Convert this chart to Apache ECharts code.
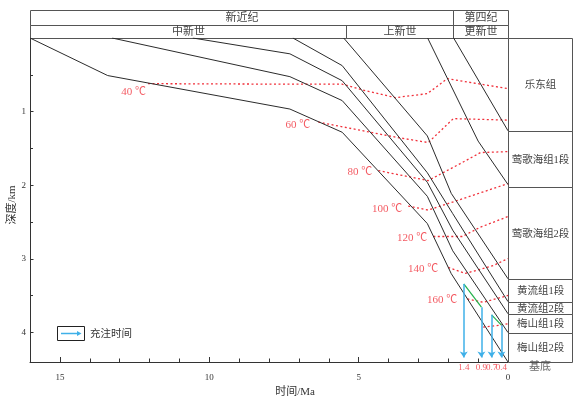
<!DOCTYPE html>
<html>
<head>
<meta charset="utf-8">
<script src="https://cdn.jsdelivr.net/npm/echarts@6/dist/echarts.min.js"></script>
<style>
  html, body { margin: 0; padding: 0; background: #fff; }
  #main { width: 587px; height: 399px; }
</style>
</head>
<body>
<div id="main"></div>
<script>
// 埋藏史曲线：[时间 Ma, 深度 km]
var burialA = [[16, 0], [13.4, 0.51], [7.3, 0.965], [5.55, 1.28], [2.7, 2.52], [1.9, 3.2], [0, 4.4]];
var burialB = [[13.25, 0], [7.3, 0.525], [5.55, 0.85], [2.7, 2.15], [1.85, 2.89], [0, 4.0]];
var burialC = [[10.55, 0], [7.3, 0.215], [5.55, 0.58], [2.7, 1.96], [1.85, 2.61], [0, 3.745]];
var burialD = [[7.2, 0], [5.55, 0.375], [2.7, 1.83], [1.85, 2.385], [0, 3.58]];
var burialE = [[5.5, 0], [2.7, 1.33], [1.9, 2.11], [0, 3.27]];
var burialY2 = [[2.69, 0], [1.0, 1.4], [0, 1.99]];
var burialY1 = [[1.82, 0], [0, 1.26]];

// 古地温等温线
var iso40 = [[12.05, 0.62], [7.3, 0.627], [5.55, 0.627], [4.77, 0.715], [3.77, 0.81], [2.7, 0.756], [2.03, 0.552], [0, 0.688]];
var iso60 = [[6.35, 1.142], [3.77, 1.346], [2.67, 1.42], [1.83, 1.095], [0, 1.115]];
var iso80 = [[4.34, 1.8], [3.77, 1.848], [2.67, 1.936], [1.6, 1.706], [0.92, 1.556], [0, 1.543]];
var iso100 = [[3.34, 2.282], [2.67, 2.337], [1.6, 2.194], [0, 1.977]];
var iso120 = [[2.5, 2.696], [1.53, 2.696], [0.93, 2.57], [0, 2.425]];
var iso140 = [[2.0, 3.116], [1.43, 3.198], [0.49, 3.09], [0, 2.995]];
var iso160 = [[1.36, 3.544], [0.82, 3.59], [0, 3.496]];
var iso180 = [[0.83, 3.926], [0.25, 3.9], [0, 3.88]];
var tempNames = ['40 ℃', '60 ℃', '80 ℃', '100 ℃', '120 ℃', '140 ℃', '160 ℃'];

// 充注时间
var arrowTimes = [1.48, 0.89, 0.55, 0.22];
var arrowTops = [3.34, 3.655, 3.76, 3.9];
var arrowLabels = ['1.4', '0.9', '0.7', '0.4'];
var arrowEnd = 4.34;

// 地层年代
var periodNames = ['新近纪', '第四纪'];
var periodBounds = [16, 1.85, 0];
var epochNames = ['中新世', '上新世', '更新世'];
var epochBounds = [16, 5.42, 1.85, 0];
var formationNames = ['乐东组', '莺歌海组1段', '莺歌海组2段', '黄流组1段', '黄流组2段', '梅山组1段', '梅山组2段'];
var formationTops = [0, 1.26, 2.02, 3.27, 3.58, 3.745, 4.0];
var baseDepth = 4.4;
var basementName = '基底';

var FONT = "'Liberation Serif','Noto Sans CJK SC',serif";
var RED = '#f0303a';
var BLUE = '#3fb0e8';
var AXIS = '#333';

var chart = echarts.init(document.getElementById('main'));

function px(v) { return Math.round(v) + 0.5; }

function boxItem(names, fontSize) {
  return function (params, api) {
    var a = api.coord([api.value(0), api.value(2)]);
    var b = api.coord([api.value(1), api.value(3)]);
    var x0 = px(Math.min(a[0], b[0])), x1 = px(Math.max(a[0], b[0]));
    var y0 = px(Math.min(a[1], b[1])), y1 = px(Math.max(a[1], b[1]));
    return {
      type: 'group',
      children: [{
        type: 'rect',
        shape: { x: x0, y: y0, width: x1 - x0, height: y1 - y0 },
        style: { fill: 'none', stroke: '#555', lineWidth: 1 }
      }, {
        type: 'text',
        x: (x0 + x1) / 2, y: (y0 + y1) / 2 + 0.5,
        style: { text: names[params.dataIndex], align: 'center', verticalAlign: 'middle',
                 fontSize: fontSize, fontFamily: FONT, fill: '#444' }
      }]
    };
  };
}

var series = [];

[burialA, burialB, burialC, burialD, burialE, burialY2, burialY1].forEach(function (d) {
  series.push({
    type: 'line', xAxisIndex: 0, yAxisIndex: 0, data: d, symbol: 'none', silent: true, z: 3,
    lineStyle: { color: '#2b2b2b', width: 1 }
  });
});

var isos = [iso40, iso60, iso80, iso100, iso120, iso140, iso160, iso180];
isos.forEach(function (d) {
  series.push({
    type: 'line', xAxisIndex: 0, yAxisIndex: 0, data: d, symbol: 'none', silent: true, z: 2,
    lineStyle: { color: RED, width: 1.3, type: [2, 2.5] }
  });
});

// 等温线标注
var labelPos = [[2, 8.5], [8, 3.5], [6, 2], [6, 3.5], [6, 2], [10, 2], [10, 1.5]];
series.push({
  type: 'scatter', xAxisIndex: 0, yAxisIndex: 0, symbolSize: 0, clip: false, silent: true,
  data: tempNames.map(function (n, i) {
    return {
      value: isos[i][0],
      label: { distance: labelPos[i][0], offset: [0, labelPos[i][1]] }
    };
  }),
  label: {
    show: true, position: 'left', color: RED, fontSize: 11, fontFamily: FONT,
    formatter: function (p) { return tempNames[p.dataIndex]; }
  }
});

// 充注时间箭头
series.push({
  type: 'line', xAxisIndex: 0, yAxisIndex: 0, data: [], silent: true,
  markLine: {
    silent: true, symbol: ['none', 'arrow'], symbolSize: 6, animation: false,
    label: { show: false },
    lineStyle: { color: BLUE, width: 1.5, type: 'solid' },
    data: arrowTimes.map(function (t, i) {
      return [{ coord: [t, arrowTops[i]] }, { coord: [t, arrowEnd] }];
    })
  }
});
[[0, 1], [2, 3]].forEach(function (p) {
  series.push({
    type: 'line', xAxisIndex: 0, yAxisIndex: 0, symbol: 'none', silent: true, z: 4,
    lineStyle: { color: '#22b04a', width: 1.2 },
    data: p.map(function (i) { return [arrowTimes[i], arrowTops[i]]; })
  });
});
series.push({
  type: 'scatter', xAxisIndex: 0, yAxisIndex: 0, symbolSize: 0, clip: false, silent: true,
  data: arrowTimes.map(function (t) { return [t, baseDepth]; }),
  label: {
    show: true, position: 'bottom', distance: 1, color: RED, fontSize: 9, fontFamily: FONT,
    formatter: function (p) { return arrowLabels[p.dataIndex]; }
  }
});

// 表头：纪、世
series.push({
  type: 'custom', xAxisIndex: 2, yAxisIndex: 2, silent: true,
  renderItem: boxItem(periodNames, 11),
  data: periodNames.map(function (n, i) { return [periodBounds[i], periodBounds[i + 1], 0, 1]; })
});
series.push({
  type: 'custom', xAxisIndex: 3, yAxisIndex: 3, silent: true,
  renderItem: boxItem(epochNames, 11),
  data: epochNames.map(function (n, i) { return [epochBounds[i], epochBounds[i + 1], 0, 1]; })
});
// 右侧地层
series.push({
  type: 'custom', xAxisIndex: 4, yAxisIndex: 4, silent: true,
  renderItem: boxItem(formationNames, 10.5),
  data: formationNames.map(function (n, i) {
    var bot = i < formationTops.length - 1 ? formationTops[i + 1] : baseDepth;
    return [0, 1, formationTops[i], bot];
  })
});
series.push({
  type: 'scatter', xAxisIndex: 4, yAxisIndex: 4, symbolSize: 0, clip: false, silent: true,
  data: [[0.5, baseDepth]],
  label: { show: true, position: 'bottom', distance: 0, color: '#444', fontSize: 11, fontFamily: FONT,
           formatter: basementName }
});

var hidden = { show: false };

var option = {
  animation: false,
  textStyle: { fontFamily: FONT },
  grid: [
    { left: 30, top: 38, width: 478, height: 324, outerBoundsMode: 'none', containLabel: false },
    { left: 30, top: 10, width: 478, height: 15, outerBoundsMode: 'none', containLabel: false },
    { left: 30, top: 25, width: 478, height: 13, outerBoundsMode: 'none', containLabel: false },
    { left: 508, top: 38, width: 64, height: 324, outerBoundsMode: 'none', containLabel: false }
  ],
  xAxis: [
    {
      gridIndex: 0, type: 'value', inverse: true, min: 0, max: 16, interval: 5, position: 'bottom',
      name: '时间/Ma', nameLocation: 'middle', nameGap: 22,
      nameTextStyle: { fontSize: 11, color: '#333', fontFamily: FONT, padding: [0, 0, 0, 52] },
      axisLine: { show: true, onZero: false, lineStyle: { color: AXIS, width: 1 } },
      axisTick: { show: true, inside: true, length: 5, lineStyle: { color: AXIS, width: 1 } },
      axisLabel: { fontSize: 9, color: '#333', margin: 11,
                   formatter: function (v) { return v % 5 === 0 ? String(v) : ''; } },
      splitLine: hidden
    },
    {
      gridIndex: 0, type: 'value', inverse: true, min: 0, max: 16, interval: 1, position: 'bottom',
      axisLine: { show: false, onZero: false }, axisLabel: hidden, splitLine: hidden,
      axisTick: { show: true, inside: true, length: 3.5, lineStyle: { color: AXIS, width: 1 } }
    },
    { gridIndex: 1, type: 'value', inverse: true, min: 0, max: 16, show: false },
    { gridIndex: 2, type: 'value', inverse: true, min: 0, max: 16, show: false },
    { gridIndex: 3, type: 'value', min: 0, max: 1, show: false }
  ],
  yAxis: [
    {
      gridIndex: 0, type: 'value', inverse: true, min: 0, max: 4.4, interval: 1, position: 'left',
      axisLine: { show: true, onZero: false, lineStyle: { color: AXIS, width: 1 } },
      axisTick: { show: true, inside: true, length: 3.5, lineStyle: { color: AXIS, width: 1 } },
      axisLabel: { fontSize: 9, color: '#333', margin: 4,
                   formatter: function (v) { return v > 0 && Math.round(v) === v ? String(v) : ''; } },
      splitLine: hidden
    },
    {
      gridIndex: 0, type: 'value', inverse: true, min: 0, max: 4.4, interval: 0.5, position: 'left',
      axisLine: { show: false, onZero: false }, axisLabel: hidden, splitLine: hidden,
      axisTick: { show: true, inside: true, length: 3, lineStyle: { color: AXIS, width: 1 } }
    },
    { gridIndex: 1, type: 'value', min: 0, max: 1, show: false },
    { gridIndex: 2, type: 'value', min: 0, max: 1, show: false },
    { gridIndex: 3, type: 'value', inverse: true, min: 0, max: 4.4, show: false }
  ],
  graphic: [
    { type: 'text', x: 12.5, y: 205, rotation: Math.PI / 2,
      style: { text: '深度/km', fontSize: 11, fontFamily: FONT, fill: '#333', align: 'center', verticalAlign: 'middle' } },
    { type: 'rect', shape: { x: 57.5, y: 326.5, width: 27, height: 14 },
      style: { fill: '#fff', stroke: '#222', lineWidth: 1 }, z: 10 },
    { type: 'line', shape: { x1: 61, y1: 333.5, x2: 78, y2: 333.5 },
      style: { stroke: BLUE, lineWidth: 1.5 }, z: 11 },
    { type: 'polygon', shape: { points: [[77, 331], [81.5, 333.5], [77, 336]] },
      style: { fill: BLUE }, z: 11 },
    { type: 'text', x: 90, y: 334,
      style: { text: '充注时间', fontSize: 10.5, fontFamily: FONT, fill: '#333', verticalAlign: 'middle' }, z: 11 }
  ],
  series: series
};

chart.setOption(option);
</script>
</body>
</html>
